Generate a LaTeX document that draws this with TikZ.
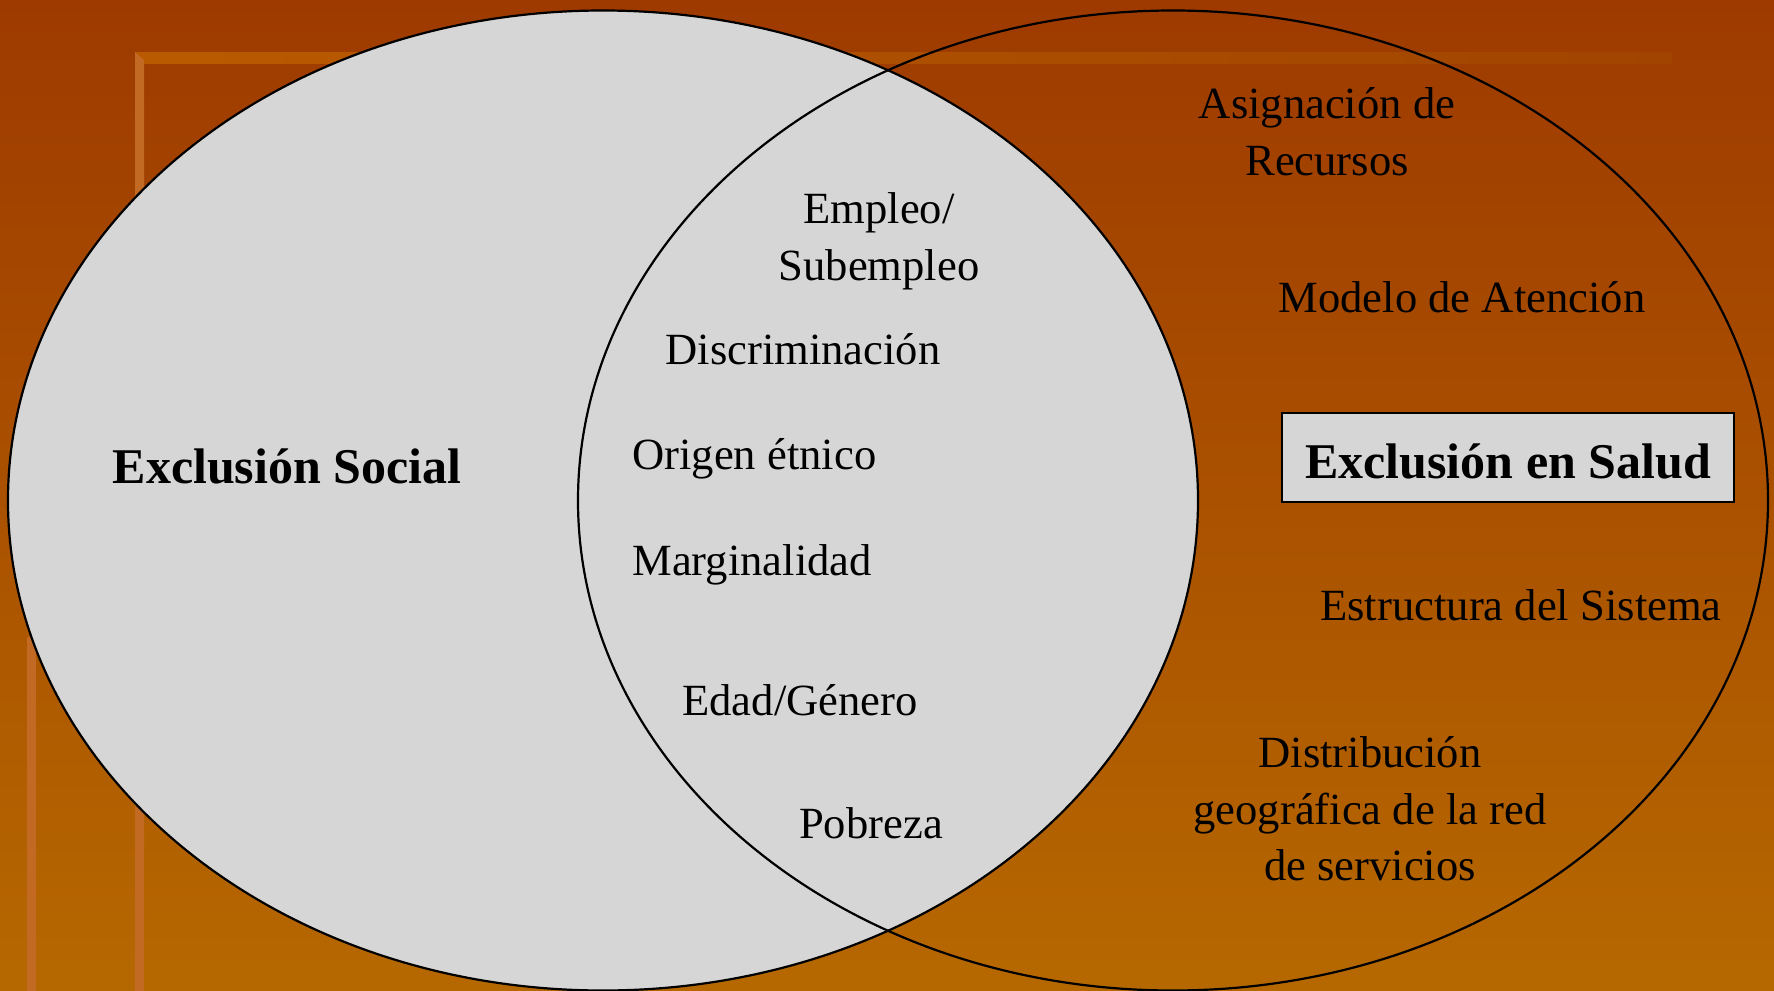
\documentclass[tikz,border=0pt]{standalone}
\usepackage{fontspec}
\setmainfont{Liberation Serif}
\definecolor{bgtop}{RGB}{158,58,0}
\definecolor{bgbot}{RGB}{182,104,0}
\definecolor{barL}{RGB}{186,90,0}
\definecolor{barR}{RGB}{160,68,0}
\definecolor{vbar}{RGB}{194,106,36}
\definecolor{setgray}{RGB}{214,214,214}
\tikzset{
  lbl/.style={inner sep=0pt, font=\fontsize{22.3}{28.3}\selectfont, align=center, text=black},
  ttl/.style={inner sep=0pt, font=\fontsize{25}{30}\selectfont\bfseries, text=black},
  setline/.style={draw=black, line width=1.1pt}
}
\begin{document}
\begin{tikzpicture}[x=0.5pt,y=-0.5pt]
\useasboundingbox (0,0) rectangle (1774,991);
% background
\shade[top color=bgtop, bottom color=bgbot] (0,0) rectangle (1774,991);
% decorative frame bars
\shade[left color=barL, right color=barR] (135,52) rectangle (1672,63);
\fill[vbar] (135,52) -- (144,60) -- (144,991) -- (135,991) -- cycle;
\fill[vbar] (27,637) rectangle (36,991);
% sets
\fill[setgray] (603,500.5) ellipse [x radius=297.5pt, y radius=245pt];
\draw[setline] (603,500.5) ellipse [x radius=297.5pt, y radius=245pt];
\draw[setline] (1173,500.5) ellipse [x radius=297.5pt, y radius=245pt];
% social exclusion
\node[ttl] (social) at (287,466) {Exclusión Social};
% intersection
\node[lbl] (empleo) at (879,241.5) {Empleo/\\Subempleo};
\node[lbl] (discr) at (803,349) {Discriminación};
\node[lbl, anchor=west] (origen) at (632,458.5) {Origen étnico};
\node[lbl, anchor=west] (margin) at (632,564.5) {Marginalidad};
\node[lbl] (edad) at (800,700) {Edad/Género};
\node[lbl] (pobreza) at (871,823) {Pobreza};
% health exclusion
\node[lbl] (asign) at (1327,132) {Asignación de\\Recursos};
\node[lbl] (modelo) at (1462,297) {Modelo de Atención};
\node[ttl, draw=black, line width=1pt, fill=setgray, minimum width=226pt, minimum height=44.5pt, text height=21pt, text depth=0pt] (salud) at (1508,457.5) {Exclusión en Salud};
\node[lbl] (estruct) at (1521,605) {Estructura del Sistema};
\node[lbl] (distr) at (1370,809) {Distribución\\geográfica de la red\\de servicios};
\end{tikzpicture}
\end{document}
